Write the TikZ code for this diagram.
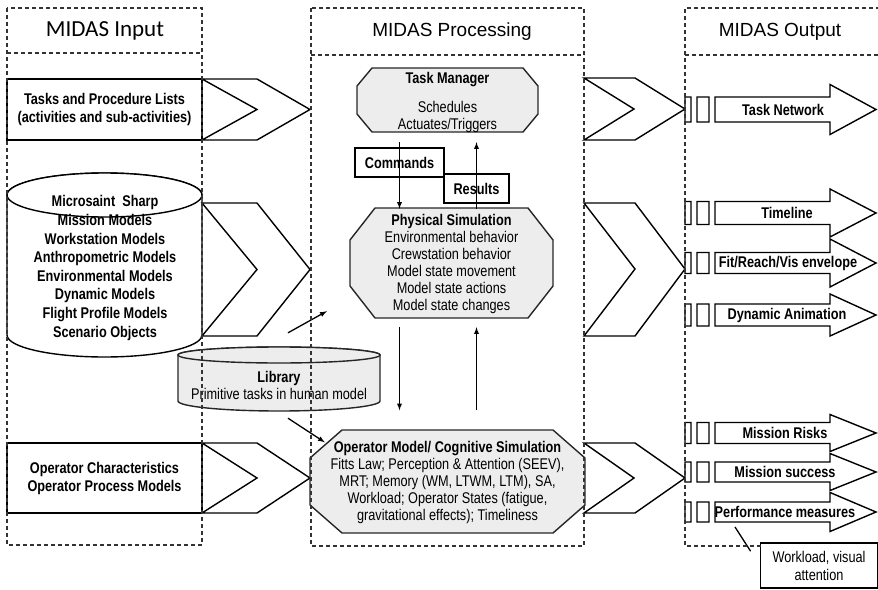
\documentclass[tikz,border=0pt]{standalone}
\usepackage{fontspec}
\setmainfont{Liberation Sans}
\newfontfamily\cond{Liberation Sans}[FakeStretch=0.82]
\newfontfamily\calfont{Carlito}
\usetikzlibrary{arrows, calc}
\tikzstyle{column} = [dash pattern=on 4pt off 3pt, line width=1.4pt, draw=black!80]
\tikzstyle{inbox} = [rectangle, draw=black, fill=white, line width=1.4pt, minimum width=195pt, align=center, font=\cond\bfseries\fontsize{15.5}{18}\selectfont]
\tikzstyle{chev} = [draw=black, fill=white, line width=1.4pt, line join=miter]
\tikzstyle{octa} = [draw=black!85, fill=gray!14, line width=1.4pt]
\tikzstyle{octtxt} = [align=center, font=\cond\fontsize{15.5}{17}\selectfont]
\tikzstyle{boldtxt} = [align=center, font=\cond\bfseries\fontsize{15.5}{18.6}\selectfont]
\tikzstyle{tagbox} = [rectangle, draw=black, fill=white, line width=1.4pt, font=\cond\bfseries\fontsize{15.5}{17}\selectfont]
\tikzstyle{outbox} = [draw=black, fill=white, line width=1.4pt, line join=miter]
\tikzstyle{outtxt} = [font=\cond\bfseries\fontsize{15.5}{17}\selectfont]
\tikzstyle{header} = [font=\fontsize{19}{22}\selectfont]
\tikzstyle{arrow} = [line width=1.3pt,->,>=latex]

\begin{document}
\begin{tikzpicture}[x=1pt, y=-1pt, every node/.style={inner sep=0pt}]
	\useasboundingbox (0,0) rectangle (878,589);
	
	\node (hin) [font=\calfont\fontsize{23}{26}\selectfont] at (105,31) {MIDAS Input};
	\node (hproc) [header] at (452,32) {MIDAS Processing};
	\node (hout) [header] at (780,32) {MIDAS Output};
	
	% input column
	\node (tasks) [inbox, minimum height=61pt] at (104.5,109.5) {Tasks and Procedure Lists\\(activities and sub-activities)};
	\draw [chev] (202,79) -- (257,79) -- (310,109.5) -- (257,140) -- (202,140) -- (257,109.5) -- cycle;
	
	\draw [chev] (7,195) -- (7,335) arc[start angle=180, end angle=0, x radius=97.5, y radius=22] -- (202,195) arc[start angle=0, end angle=-180, x radius=97.5, y radius=22] -- cycle;
	\draw [chev] (104.5,195) ellipse [x radius=97.5, y radius=22];
	\node (models) [boldtxt] at (105,268) {Microsaint\ \ Sharp\\Mission Models\\Workstation Models\\Anthropometric Models\\Environmental Models\\Dynamic Models\\Flight Profile Models\\Scenario Objects};
	\draw [chev] (202,203) -- (257,203) -- (310,269.5) -- (257,336) -- (202,336) -- (257,269.5) -- cycle;
	
	\node (opchar) [inbox, minimum height=70pt] at (104.5,478) {Operator Characteristics\\Operator Process Models};
	\draw [chev] (202,443) -- (257,443) -- (310,478) -- (257,513) -- (202,513) -- (257,478) -- cycle;
	
	\draw [octa] (178,355) -- (178,401) arc[start angle=180, end angle=0, x radius=101, y radius=10] -- (380,355) arc[start angle=0, end angle=-180, x radius=101, y radius=8] -- cycle;
	\draw [octa] (279,355) ellipse [x radius=101, y radius=8];
	\node (lib) [octtxt, minimum width=202pt, minimum height=54pt] at (279,385) {\textbf{Library}\\Primitive tasks in human model};
	
	% processing column
	\draw [octa] (372,68) -- (523,68) -- (538,86) -- (538,114) -- (523,132) -- (372,132) -- (357,114) -- (357,86) -- cycle;
	\node (tm) [octtxt, minimum width=181pt, minimum height=64pt] at (447.5,102) {\textbf{Task Manager}\\[12pt]Schedules\\Actuates/Triggers};
	
	\node (cmd) [tagbox, minimum width=89pt, minimum height=29pt] at (399.5,162.5) {Commands};
	\node (res) [tagbox, minimum width=65pt, minimum height=29pt] at (476.5,188.5) {Results};
	
	\draw [octa] (375,208) -- (528,208) -- (553,240) -- (553,286) -- (528,318) -- (375,318) -- (350,286) -- (350,240) -- cycle;
	\node (phys) [octtxt, minimum width=203pt, minimum height=110pt] at (451.5,264) {\textbf{Physical Simulation}\\Environmental behavior\\Crewstation behavior\\Model state movement\\Model state actions\\Model state changes};
	
	\draw [octa] (342,430) -- (553,430) -- (585,458) -- (585,505) -- (553,533) -- (342,533) -- (310,505) -- (310,458) -- cycle;
	\node (opm) [octtxt, minimum width=275pt, minimum height=103pt] at (447.5,482) {\textbf{Operator Model/ Cognitive Simulation}\\Fitts Law; Perception \& Attention (SEEV),\\MRT; Memory (WM, LTWM, LTM), SA,\\Workload; Operator States (fatigue,\\gravitational effects); Timeliness};
	
				\draw [arrow, shorten <=8pt] (tm.south -| cmd) -- (phys.north -| cmd);
				\draw [arrow, shorten >=8pt] (phys.north -| res) -- (tm.south -| res);
				\draw [arrow, shorten <=8pt, shorten >=20pt] (phys.south -| cmd) -- (opm.north -| cmd);
				\draw [arrow, shorten <=20pt, shorten >=8pt] (opm.north -| res) -- (phys.south -| res);
				\draw [arrow] ($(lib.north)+(9,-25)$) -- ($(phys.south west)+(-23,-8)$);
				\draw [arrow] ($(lib.south)+(9,6)$) -- ($(opm.north west)+(15,12)$);
	
	\draw [chev] (584,78) -- (635,78) -- (685,109) -- (635,140) -- (584,140) -- (634,109) -- cycle;
	\draw [chev] (584,203) -- (635,203) -- (685,269) -- (635,336) -- (584,336) -- (635,269) -- cycle;
	\draw [chev] (584,443) -- (635,443) -- (685,478) -- (635,513) -- (584,513) -- (634,478) -- cycle;
	
	% output column
	\draw [outbox] (685,97) rectangle (691,122) (697,97) rectangle (709,122) (715,97) -- (830,97) -- (830,84.5) -- (876,109.5) -- (830,134.5) -- (830,122) -- (715,122) -- cycle;
	\node (tnet) [outtxt] at (783,110) {Task Network};
	\draw [outbox] (685,201.5) rectangle (691,224.5) (697,201.5) rectangle (709,224.5) (715,201.5) -- (830,201.5) -- (830,189) -- (876,213) -- (830,237) -- (830,224.5) -- (715,224.5) -- cycle;
	\node (tline) [outtxt] at (787,213) {Timeline};
	\draw [outbox] (685,252.5) rectangle (691,273.5) (697,252.5) rectangle (709,273.5) (715,252.5) -- (830,252.5) -- (830,239) -- (876,263) -- (830,287) -- (830,273.5) -- (715,273.5) -- cycle;
	\node (fit) [outtxt] at (788,263) {Fit/Reach/Vis envelope};
	\draw [outbox] (685,304) rectangle (691,326) (697,304) rectangle (709,326) (715,304) -- (830,304) -- (830,294) -- (876,315) -- (830,336) -- (830,326) -- (715,326) -- cycle;
	\node (anim) [outtxt] at (787,315) {Dynamic Animation};
	\draw [outbox] (685,422.5) rectangle (691,443.5) (697,422.5) rectangle (709,443.5) (715,422.5) -- (830,422.5) -- (830,414.5) -- (876,433) -- (830,451.5) -- (830,443.5) -- (715,443.5) -- cycle;
	\node (risk) [outtxt] at (785,433) {Mission Risks};
	\draw [outbox] (685,462) rectangle (691,482) (697,462) rectangle (709,482) (715,462) -- (830,462) -- (830,453.5) -- (876,472) -- (830,490.5) -- (830,482) -- (715,482) -- cycle;
	\node (succ) [outtxt] at (785,472) {Mission success};
	\draw [outbox] (685,502) rectangle (691,522) (697,502) rectangle (709,522) (715,502) -- (830,502) -- (830,492.5) -- (876,512) -- (830,531.5) -- (830,522) -- (715,522) -- cycle;
	\node (perf) [outtxt] at (785,512) {Performance measures};
	
	\node (wl) [rectangle, draw=black, fill=white, line width=1.4pt, minimum width=117pt, minimum height=45pt, align=center, font=\cond\fontsize{15.5}{18}\selectfont] at (819,565.5) {Workload, visual\\attention};
	\coordinate (pm) at (735,527);
				\draw [line width=1.3pt, shorten >=17pt] (pm) -- (wl.west);
	
	% dashed columns
	\draw [column] (7,8) rectangle (202,545);
	\draw [column] (7,53) -- (202,53);
	\draw [column] (311,8) rectangle (584,546);
	\draw [column] (311,55) -- (584,55);
	\draw [column] (880,8) -| (685,546) -- (761,546);
	\draw [column] (685,55) -- (880,55);
\end{tikzpicture}
\end{document}
